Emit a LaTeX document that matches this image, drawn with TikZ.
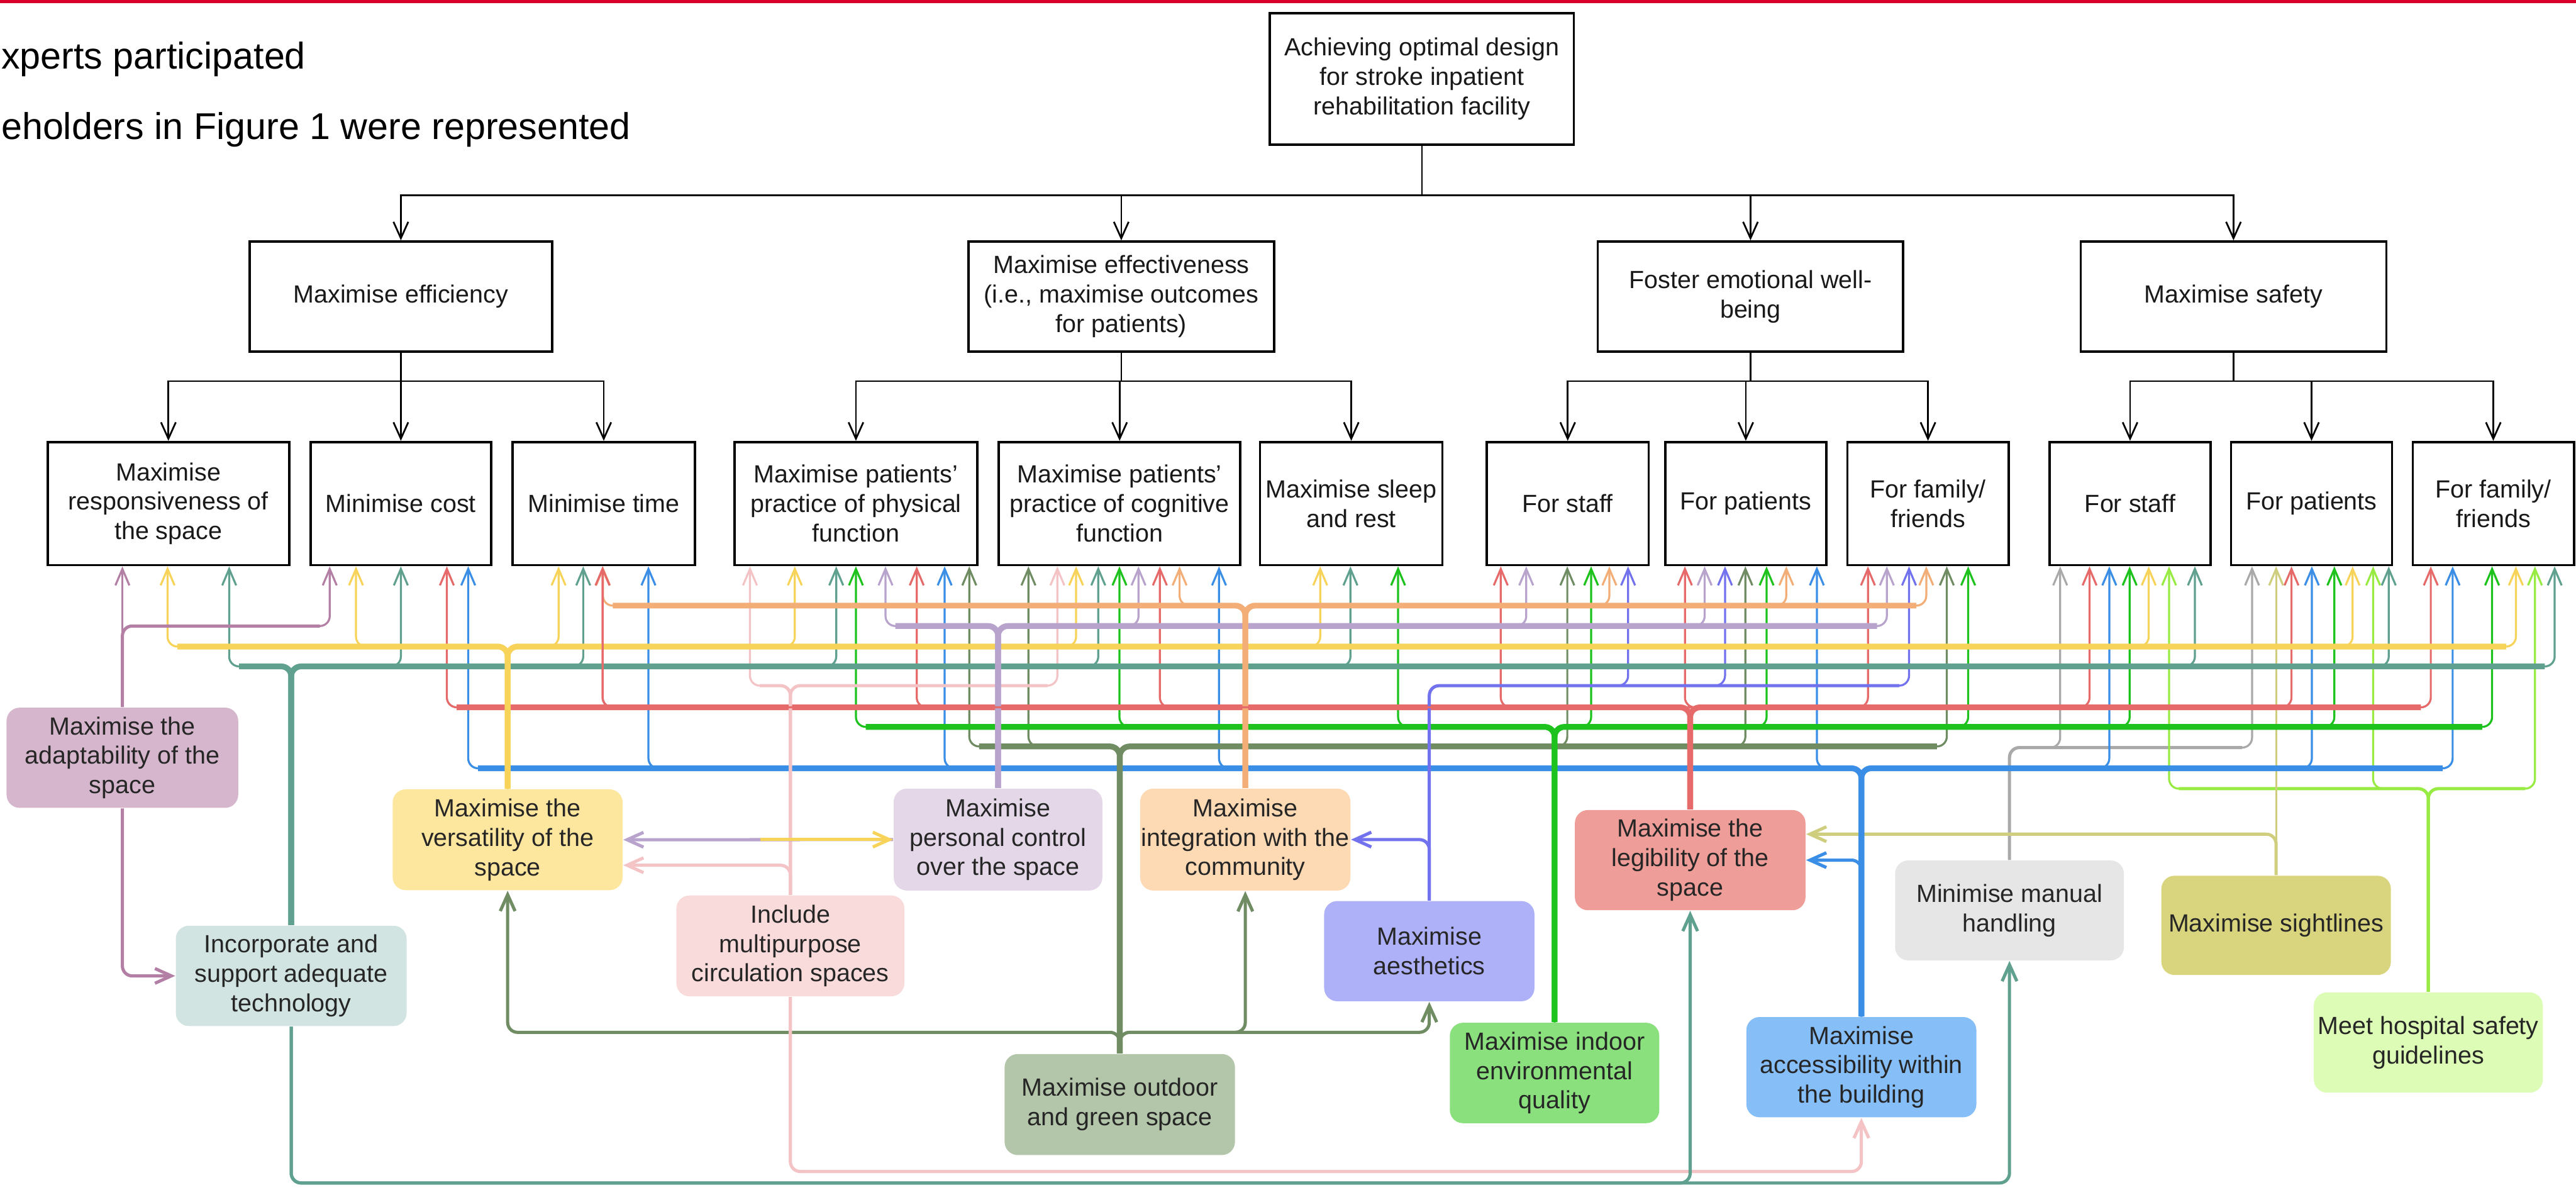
\documentclass[tikz,border=0pt]{standalone}
\usepackage{fontspec}
\setmainfont{Liberation Sans}
\usetikzlibrary{arrows.meta}
\definecolor{topred}{HTML}{D9002A}
\definecolor{cMauve}{HTML}{B47FA5}\definecolor{fMauve}{HTML}{D6B6CC}
\definecolor{cTeal}{HTML}{5FA08F}\definecolor{fTeal}{HTML}{D1E4E1}
\definecolor{cYellow}{HTML}{F8D35A}\definecolor{fYellow}{HTML}{FDE69E}
\definecolor{cPink}{HTML}{F3C3C5}\definecolor{fPink}{HTML}{F9DBDB}
\definecolor{cLav}{HTML}{B7A3CB}\definecolor{fLav}{HTML}{E3D7E8}
\definecolor{cOrange}{HTML}{F3AE78}\definecolor{fOrange}{HTML}{FDDAB4}
\definecolor{cPeri}{HTML}{7272EE}\definecolor{fPeri}{HTML}{AEB1F8}
\definecolor{cSage}{HTML}{6F8C63}\definecolor{fSage}{HTML}{B3C6A9}
\definecolor{cGreen}{HTML}{1DC21D}\definecolor{fGreen}{HTML}{89E07D}
\definecolor{cRed}{HTML}{E66A6A}\definecolor{fRed}{HTML}{EE9D98}
\definecolor{cGray}{HTML}{A9A9A9}\definecolor{fGray}{HTML}{E6E6E6}
\definecolor{cBlue}{HTML}{3B8EE5}\definecolor{fBlue}{HTML}{86BEF8}
\definecolor{cOlive}{HTML}{CFCD7E}\definecolor{fOlive}{HTML}{D9D47E}
\definecolor{cLime}{HTML}{98EB42}\definecolor{fLime}{HTML}{DDFCB5}
\tikzset{
  tree/.style={line width=0.6pt, black, -{Straight Barb[length=2mm,width=1.8mm]}},
  lvl/.style={draw=black, line width=0.8pt, fill=white, inner sep=0pt, align=center,
    font=\fontsize{8.6}{10.2}\selectfont, text=black!90},
  cbox/.style={rounded corners=1.6mm, inner sep=0pt, align=center,
    font=\fontsize{8.6}{10.2}\selectfont, text=black!85},
  brl/.style={line width=0.7pt, rounded corners=1.2mm, -{Straight Barb[length=2mm,width=1.7mm]}},
  thk/.style={line width=2pt, rounded corners=1.2mm},
  med/.style={line width=1.1pt, rounded corners=1.2mm},
  medarr/.style={line width=1.1pt, rounded corners=1.2mm, -{Straight Barb[length=2mm,width=1.8mm]}},
}
\newcommand\boxnode[7]{%
  \pgfmathsetmacro\mybw{(#4-#2)*0.02}%
  \pgfmathsetmacro\mybh{(#5-#3)*0.02}%
  \node[#6, minimum width=\mybw cm, minimum height=\mybh cm] (#1) at ({(#2+#4)/2},{(#3+#5)/2}) {#7};%
}
\newcommand\brn[5]{\draw[#1, brl] (#2.north) -- (#2.north |- 0,#3) -- (#4,#3) -- (#5.south -| #4,0);}
\newcommand\busL[5]{\draw[#1, #5] (#4,#3) -- (#2.north |- 0,#3) -- (#2.north);}
\begin{document}
\begin{tikzpicture}[x=0.02cm, y=-0.02cm]
\useasboundingbox (0,0) rectangle (1568,724);
\fill[topred] (0,0) rectangle (1568,2);
\node[anchor=base west, inner sep=0pt, font=\fontsize{12.9}{15}\selectfont] (t1) at (0.5,42) {xperts participated};
\node[anchor=base west, inner sep=0pt, font=\fontsize{12.9}{15}\selectfont] (t2) at (0.5,84.7) {eholders in Figure 1 were represented};

% hierarchy boxes
\boxnode{top}{773}{8}{958}{88}{lvl}{Achieving optimal design\\for stroke inpatient\\rehabilitation facility}
\boxnode{eff}{152}{147}{336}{214}{lvl}{Maximise efficiency}
\boxnode{effv}{589.5}{147}{775.5}{214}{lvl}{Maximise effectiveness\\(i.e., maximise outcomes\\for patients)}
\boxnode{emo}{972.5}{147}{1158.5}{214}{lvl}{Foster emotional well-\\being}
\boxnode{saf}{1266.5}{147}{1452.5}{214}{lvl}{Maximise safety}

\boxnode{resp}{29}{269}{176}{344}{lvl}{Maximise\\responsiveness of\\the space}
\boxnode{cost}{189}{269}{299}{344}{lvl}{Minimise cost}
\boxnode{time}{312}{269}{423}{344}{lvl}{Minimise time}
\boxnode{phys}{447}{269}{595}{344}{lvl}{Maximise patients'\\practice of physical\\function}
\boxnode{cogn}{608}{269}{755}{344}{lvl}{Maximise patients'\\practice of cognitive\\function}
\boxnode{sleep}{767}{269}{878}{344}{lvl}{Maximise sleep\\and rest}
\boxnode{estaff}{905}{269}{1003.5}{344}{lvl}{For staff}
\boxnode{epat}{1013.6}{269}{1111.7}{344}{lvl}{For patients}
\boxnode{efam}{1124.5}{269}{1222.6}{344}{lvl}{For family/\\friends}
\boxnode{sstaff}{1247.5}{269}{1345.6}{344}{lvl}{For staff}
\boxnode{spat}{1358}{269}{1456}{344}{lvl}{For patients}
\boxnode{sfam}{1468.6}{269}{1566.7}{344}{lvl}{For family/\\friends}

\foreach \c in {eff,effv,emo,saf} \draw[tree] (top.south) -- (top.south |- 0,119) -| (\c.north);
\foreach \c in {resp,cost,time} \draw[tree] (eff.south) -- (eff.south |- 0,232) -| (\c.north);
\foreach \c in {phys,cogn,sleep} \draw[tree] (effv.south) -- (effv.south |- 0,232) -| (\c.north);
\foreach \c in {estaff,epat,efam} \draw[tree] (emo.south) -- (emo.south |- 0,232) -| (\c.north);
\foreach \c in {sstaff,spat,sfam} \draw[tree] (saf.south) -- (saf.south |- 0,232) -| (\c.north);

% coloured factor boxes
\boxnode{adapt}{4}{430.7}{145}{491.7}{cbox, fill=fMauve}{Maximise the\\adaptability of the\\space}
\boxnode{incorp}{107}{563.4}{247.5}{624.5}{cbox, fill=fTeal}{Incorporate and\\support adequate\\technology}
\boxnode{vers}{239}{480.4}{379}{541.8}{cbox, fill=fYellow}{Maximise the\\versatility of the\\space}
\boxnode{multi}{411.7}{545}{550.5}{606.4}{cbox, fill=fPink}{Include\\multipurpose\\circulation spaces}
\boxnode{pctrl}{544}{480}{671}{542}{cbox, fill=fLav}{Maximise\\personal control\\over the space}
\boxnode{integ}{694}{480}{822}{542}{cbox, fill=fOrange}{Maximise\\integration with the\\community}
\boxnode{aesth}{806}{548.4}{934}{609.4}{cbox, fill=fPeri}{Maximise\\aesthetics}
\boxnode{outdoor}{611.5}{641.5}{751.7}{703}{cbox, fill=fSage}{Maximise outdoor\\and green space}
\boxnode{indoor}{882.5}{622.5}{1010}{683.6}{cbox, fill=fGreen}{Maximise indoor\\environmental\\quality}
\boxnode{legib}{958.6}{493}{1099}{554}{cbox, fill=fRed}{Maximise the\\legibility of the\\space}
\boxnode{manual}{1153.5}{523.7}{1292.8}{584.5}{cbox, fill=fGray}{Minimise manual\\handling}
\boxnode{sight}{1315.6}{533}{1455.3}{593.4}{cbox, fill=fOlive}{Maximise sightlines}
\boxnode{meet}{1408.4}{604}{1547.8}{665}{cbox, fill=fLime}{Meet hospital safety\\guidelines}
\boxnode{access}{1063}{619}{1203}{680}{cbox, fill=fBlue}{Maximise\\accessibility within\\the building}

% ---- buses and branches ----
% gray
\busL{cGray}{manual}{455}{1364.8}{med}
\foreach \x/\t in {1254/sstaff,1370.8/spat} {\brn{cGray}{manual}{455}{\x}{\t}}
% lime
\busL{cLime}{meet}{480}{1326.3}{med}
\busL{cLime}{meet}{480}{1537}{med}
\foreach \x/\t in {1320.3/sstaff,1444.5/spat,1543/sfam} {\brn{cLime}{meet}{480}{\x}{\t}}
% olive
\draw[cOlive, brl] (sight.north) -- (spat.south -| sight.north);
\draw[cOlive, medarr] (sight.north) -- (sight.north |- 0,507.7) -- (legib.east |- 0,507.7);
% blue
\busL{cBlue}{access}{467.6}{291}{thk}
\busL{cBlue}{access}{467.6}{1486.9}{thk}
\foreach \x/\t in {285/cost,394.7/time,575/phys,742/cogn,1105.9/epat,1283.9/sstaff,1407.2/spat,1492.9/sfam} {\brn{cBlue}{access}{467.6}{\x}{\t}}
\draw[cBlue, medarr] (access.north) |- (legib.east);
% sage
\busL{cSage}{outdoor}{454.3}{596}{thk}
\busL{cSage}{outdoor}{454.3}{1179}{thk}
\foreach \x/\t in {590/phys,626/cogn,954/estaff,1062.4/epat,1185/efam} {\brn{cSage}{outdoor}{454.3}{\x}{\t}}
\foreach \t in {vers,integ,aesth} {\draw[cSage, medarr] (outdoor.north) -- (outdoor.north |- 0,628.3) -| (\t.south);}
% green
\busL{cGreen}{indoor}{442.4}{527}{thk}
\busL{cGreen}{indoor}{442.4}{1510.9}{thk}
\foreach \x/\t in {521/phys,681.4/cogn,851/sleep,968.5/estaff,1075.3/epat,1198/efam,1296.3/sstaff,1420.9/spat,1516.9/sfam} {\brn{cGreen}{indoor}{442.4}{\x}{\t}}
% red
\busL{cRed}{legib}{430.5}{278}{thk}
\busL{cRed}{legib}{430.5}{1473.6}{thk}
\foreach \x/\t in {272/cost,366.8/time,558/phys,706/cogn,913.5/estaff,1025.6/epat,1137/efam,1271.9/sstaff,1394.8/spat,1479.6/sfam} {\brn{cRed}{legib}{430.5}{\x}{\t}}
% periwinkle
\busL{cPeri}{aesth}{417.3}{1156}{med}
\foreach \x/\t in {991/estaff,1050/epat,1162/efam} {\brn{cPeri}{aesth}{417.3}{\x}{\t}}
\draw[cPeri, medarr] (aesth.north) |- (integ.east);
% pink
\busL{cPink}{multi}{417.3}{462.5}{med}
\busL{cPink}{multi}{417.3}{637.6}{med}
\foreach \x/\t in {456.5/phys,643.6/cogn} {\brn{cPink}{multi}{417.3}{\x}{\t}}
\draw[cPink, medarr] (multi.north) |- (vers.east |- 0,526.6);
\draw[cPink, medarr] (multi.south) -- (multi.south |- 0,713) -| (access.south);
% teal
\busL{cTeal}{incorp}{405.6}{145.5}{thk}
\busL{cTeal}{incorp}{405.6}{1549}{thk}
\foreach \x/\t in {139.5/resp,244/cost,355/time,509/phys,668.5/cogn,822/sleep,1336/sstaff,1454/spat,1555/sfam} {\brn{cTeal}{incorp}{405.6}{\x}{\t}}
\foreach \t in {legib,manual} {\draw[cTeal, medarr] (incorp.south) -- (incorp.south |- 0,720) -| (\t.south);}
% yellow
\busL{cYellow}{vers}{393.5}{108}{thk}
\busL{cYellow}{vers}{393.5}{1525.4}{thk}
\foreach \x/\t in {102/resp,216.7/cost,340/time,483.8/phys,655/cogn,803.6/sleep,1307.9/sstaff,1432/spat,1531.4/sfam} {\brn{cYellow}{vers}{393.5}{\x}{\t}}
% lavender
\busL{cLav}{pctrl}{381}{545}{thk}
\busL{cLav}{pctrl}{381}{1142.5}{thk}
\foreach \x/\t in {539/phys,693/cogn,929/estaff,1037.6/epat,1148.5/efam} {\brn{cLav}{pctrl}{381}{\x}{\t}}
% orange
\busL{cOrange}{integ}{368.6}{373}{thk}
\busL{cOrange}{integ}{368.6}{1166.5}{thk}
\foreach \x/\t in {367/time,718/cogn,979.6/estaff,1087.3/epat,1172.5/efam} {\brn{cOrange}{integ}{368.6}{\x}{\t}}
% red over orange at Minimise time
\brn{cRed}{legib}{430.5}{366.8}{time}
% mauve
\busL{cMauve}{adapt}{381}{194.7}{med}
\brn{cMauve}{adapt}{381}{200.7}{cost}
\draw[cMauve, brl] (adapt.north) -- (resp.south -| adapt.north);
\draw[cMauve, medarr] (adapt.south) |- (incorp.west);
% versatility <-> personal control
\coordinate (vpmid) at (463,511);
\draw[cLav, medarr] (pctrl.west) -- (vers.east);
\draw[cYellow, medarr] (vpmid) -- (pctrl.west);
\end{tikzpicture}
\end{document}
